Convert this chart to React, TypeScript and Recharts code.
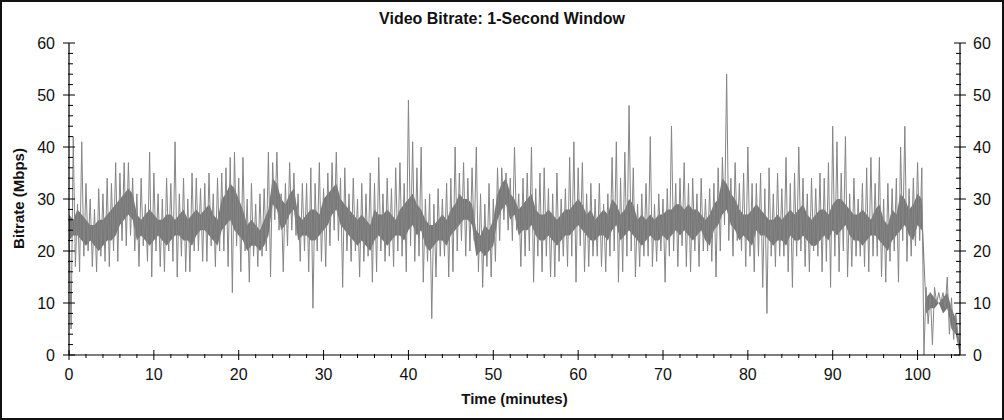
import React from 'react';
import { ComposedChart, Line, Area, XAxis, YAxis } from 'recharts';

// Time step of the bitrate trace, in minutes
const TIME_STEP = 0.25;
// Time step of the dense core band, in minutes
const CORE_STEP = 0.5;

// Bitrate trace (Mbps), 4 samples per minute from 0 to 105 min
const traceMbps = [
  25, 5, 42, 17, 29, 16, 41, 19, 33, 20, 30, 17, 28, 16, 32, 19, 31, 18, 34, 17,
  33, 20, 37, 18, 35, 22, 37, 21, 37, 23, 34, 20, 31, 17, 34, 21, 29, 18, 39, 15,
  35, 20, 31, 17, 30, 16, 34, 20, 33, 18, 41, 15, 31, 19, 34, 16, 30, 16, 35, 20,
  34, 20, 32, 18, 33, 18, 35, 21, 31, 17, 34, 20, 35, 20, 36, 17, 38, 12, 39, 21,
  34, 16, 38, 20, 30, 14, 33, 19, 29, 17, 31, 19, 32, 20, 39, 15, 37, 26, 39, 24,
  31, 16, 33, 21, 37, 24, 35, 23, 31, 18, 33, 20, 33, 16, 36, 9, 33, 20, 37, 18,
  32, 17, 35, 21, 37, 24, 39, 22, 34, 13, 36, 20, 31, 18, 34, 20, 30, 15, 33, 18,
  31, 19, 35, 14, 33, 16, 38, 20, 31, 18, 34, 19, 32, 17, 36, 20, 37, 19, 33, 16,
  49, 21, 41, 18, 36, 19, 40, 14, 30, 18, 31, 7, 29, 15, 32, 19, 30, 19, 33, 15,
  34, 16, 40, 20, 35, 22, 37, 19, 34, 20, 36, 22, 40, 16, 31, 13, 29, 17, 33, 15,
  30, 18, 36, 22, 36, 26, 35, 24, 34, 22, 40, 24, 31, 17, 34, 19, 35, 20, 40, 14,
  32, 19, 35, 16, 36, 19, 32, 15, 31, 15, 35, 18, 30, 19, 32, 17, 38, 19, 41, 14,
  36, 21, 37, 16, 31, 17, 33, 19, 30, 19, 33, 17, 29, 16, 31, 19, 38, 20, 41, 14,
  34, 16, 39, 19, 48, 20, 36, 15, 29, 17, 31, 19, 33, 19, 42, 17, 29, 18, 31, 20,
  30, 14, 32, 19, 44, 20, 33, 17, 34, 21, 37, 17, 33, 16, 34, 20, 31, 17, 34, 20,
  30, 20, 32, 18, 33, 15, 36, 20, 38, 25, 54, 22, 34, 19, 37, 22, 33, 20, 35, 17,
  40, 19, 33, 16, 33, 19, 35, 13, 32, 8, 36, 19, 31, 17, 35, 19, 32, 19, 38, 16,
  33, 13, 35, 19, 40, 20, 34, 17, 31, 16, 34, 20, 32, 19, 35, 16, 34, 18, 37, 13,
  44, 19, 41, 16, 35, 20, 42, 15, 31, 17, 34, 19, 30, 19, 33, 17, 36, 16, 38, 19,
  33, 19, 38, 15, 30, 14, 33, 18, 32, 20, 34, 14, 40, 22, 44, 18, 32, 19, 34, 21,
  37, 22, 36, 0, 13, 6, 12, 2, 13, 10, 12, 10, 12, 9, 15, 4, 11, 3, 8, 4,
  0,
];

// Dense core band of the trace, two values per minute (0..105)
const coreLow = [
  22, 23, 23, 22, 21, 22, 21, 20, 21, 22, 22, 23, 25, 26, 27, 26, 22, 23, 22, 21,
  22, 23, 22, 21, 22, 23, 23, 22, 22, 21, 23, 24, 24, 23, 22, 21, 24, 25, 26, 24,
  23, 22, 20, 21, 21, 20, 21, 23, 29, 28, 24, 25, 27, 28, 22, 23, 23, 22, 22, 23,
  24, 25, 27, 28, 25, 24, 23, 22, 21, 22, 21, 20, 22, 23, 22, 21, 22, 23, 23, 22,
  24, 25, 23, 24, 21, 20, 21, 22, 22, 21, 23, 24, 25, 26, 26, 25, 19, 20, 19, 20,
  21, 26, 28, 29, 26, 27, 23, 24, 24, 25, 23, 22, 22, 23, 22, 21, 22, 23, 23, 24,
  25, 24, 23, 22, 22, 23, 23, 22, 24, 25, 22, 23, 24, 23, 22, 21, 22, 23, 22, 22,
  23, 22, 23, 24, 23, 24, 23, 22, 23, 24, 22, 21, 24, 25, 27, 28, 25, 24, 22, 23,
  22, 21, 24, 23, 23, 22, 21, 22, 22, 21, 23, 22, 22, 23, 22, 21, 21, 22, 23, 22,
  24, 23, 24, 25, 23, 22, 22, 21, 22, 23, 23, 22, 21, 20, 22, 23, 24, 25, 23, 22,
  25, 24, 8, 9, 9, 10, 8, 9, 5, 4, 0,
];
const coreHigh = [
  27, 26, 28, 27, 26, 25, 25, 26, 26, 27, 28, 29, 30, 31, 32, 31, 27, 26, 27, 28,
  27, 26, 26, 27, 27, 26, 27, 28, 26, 27, 28, 27, 28, 29, 27, 26, 30, 31, 33, 32,
  30, 28, 25, 26, 25, 24, 26, 28, 34, 33, 30, 29, 31, 32, 27, 26, 27, 28, 28, 27,
  30, 31, 32, 33, 30, 29, 28, 27, 26, 27, 26, 25, 28, 27, 27, 28, 27, 26, 28, 29,
  30, 31, 29, 28, 26, 25, 25, 26, 27, 26, 28, 29, 31, 30, 30, 29, 24, 23, 25, 24,
  26, 31, 33, 34, 31, 30, 28, 29, 30, 31, 28, 27, 27, 28, 27, 26, 27, 28, 28, 29,
  30, 29, 27, 28, 26, 27, 28, 27, 30, 29, 27, 28, 30, 29, 26, 27, 26, 27, 26, 27,
  27, 28, 28, 29, 29, 28, 29, 28, 28, 27, 26, 27, 29, 30, 34, 33, 31, 30, 28, 27,
  27, 28, 29, 28, 27, 26, 26, 27, 26, 27, 28, 27, 28, 29, 27, 26, 27, 28, 28, 27,
  29, 30, 30, 29, 28, 27, 27, 28, 27, 26, 28, 29, 26, 25, 28, 27, 31, 30, 28, 29,
  31, 30, 11, 12, 11, 10, 11, 12, 9, 7, 2,
];

const xTicks = [
  0, 2, 4, 6, 8, 10, 12, 14, 16, 18, 20, 22, 24, 26, 28, 30, 32, 34, 36, 38,
  40, 42, 44, 46, 48, 50, 52, 54, 56, 58, 60, 62, 64, 66, 68, 70, 72, 74, 76, 78,
  80, 82, 84, 86, 88, 90, 92, 94, 96, 98, 100, 102, 104,
];
const yTicks = [
  0, 2, 4, 6, 8, 10, 12, 14, 16, 18, 20, 22, 24, 26, 28, 30,
  32, 34, 36, 38, 40, 42, 44, 46, 48, 50, 52, 54, 56, 58, 60,
];

const FONT = '"Liberation Sans", Arial, Helvetica, sans-serif';

const coreEvery = Math.round(CORE_STEP / TIME_STEP);
const rows = traceMbps.map((v, i) => {
  const row: any = { t: i * TIME_STEP, v };
  if (i % coreEvery === 0) {
    const k = i / coreEvery;
    row.core = [coreLow[k], coreHigh[k]];
  }
  return row;
});

const isMajor = (v: number) => v % 10 === 0;

const BottomTick = (p: any) => {
  const { x, y, payload } = p;
  const major = isMajor(payload.value);
  return (
    <g>
      <line x1={x} x2={x} y1={major ? y - 5 : y - 1} y2={major ? y + 5 : y + 3} stroke="#000" strokeWidth={1} />
      {major && (
        <text x={x} y={y + 25} textAnchor="middle" fontSize={16} fill="#111" fontFamily={FONT}>
          {payload.value}
        </text>
      )}
    </g>
  );
};

const TopTick = (p: any) => {
  const { x, y, payload } = p;
  const major = isMajor(payload.value);
  return <line x1={x} x2={x} y1={y} y2={major ? y + 5 : y + 3} stroke="#000" strokeWidth={1} />;
};

const LeftTick = (p: any) => {
  const { x, y, payload } = p;
  const major = isMajor(payload.value);
  return (
    <g>
      <line x1={major ? x - 6 : x - 1} x2={major ? x + 6 : x + 4} y1={y} y2={y} stroke="#000" strokeWidth={1} />
      {major && (
        <text x={x - 14} y={y} dy="0.36em" textAnchor="end" fontSize={16} fill="#111" fontFamily={FONT}>
          {payload.value}
        </text>
      )}
    </g>
  );
};

const RightTick = (p: any) => {
  const { x, y, payload } = p;
  const major = isMajor(payload.value);
  return (
    <g>
      <line x1={major ? x - 6 : x - 4} x2={major ? x + 6 : x + 1} y1={y} y2={y} stroke="#000" strokeWidth={1} />
      {major && (
        <text x={x + 13} y={y} dy="0.36em" textAnchor="start" fontSize={16} fill="#111" fontFamily={FONT}>
          {payload.value}
        </text>
      )}
    </g>
  );
};

export default function App() {
  return (
    <div style={{ position: 'absolute', left: 0, top: 0, width: 1004, height: 420, background: '#fff', fontFamily: FONT }}>
      <ComposedChart
        width={1004}
        height={420}
        data={rows}
        margin={{ top: 43, right: 0, bottom: 0, left: 9 }}
      >
        <XAxis
          dataKey="t"
          type="number"
          domain={[0, 105]}
          allowDataOverflow
          ticks={xTicks}
          interval={0}
          height={65}
          tickSize={0}
          tickMargin={0}
          tickLine={false}
          axisLine={{ stroke: '#000', strokeWidth: 1.2 }}
          tick={<BottomTick />}
        />
        <XAxis
          xAxisId="top"
          orientation="top"
          type="number"
          domain={[0, 105]}
          allowDataOverflow
          ticks={xTicks}
          interval={0}
          height={0}
          tickSize={0}
          tickMargin={0}
          tickLine={false}
          axisLine={{ stroke: '#000', strokeWidth: 1.2 }}
          tick={<TopTick />}
        />
        <YAxis
          type="number"
          domain={[0, 60]}
          allowDataOverflow
          ticks={yTicks}
          interval={0}
          width={60}
          tickSize={0}
          tickMargin={0}
          tickLine={false}
          axisLine={{ stroke: '#000', strokeWidth: 1.2 }}
          tick={<LeftTick />}
        />
        <YAxis
          yAxisId="right"
          orientation="right"
          type="number"
          domain={[0, 60]}
          allowDataOverflow
          ticks={yTicks}
          interval={0}
          width={44}
          tickSize={0}
          tickMargin={0}
          tickLine={false}
          axisLine={{ stroke: '#000', strokeWidth: 1.2 }}
          tick={<RightTick />}
        />
        <Area
          dataKey="core"
          type="linear"
          connectNulls
          stroke="none"
          fill="#777777"
          fillOpacity={1}
          isAnimationActive={false}
          dot={false}
          activeDot={false}
        />
        <Line
          dataKey="v"
          type="linear"
          stroke="#858585"
          strokeWidth={1}
          dot={false}
          activeDot={false}
          isAnimationActive={false}
        />
      </ComposedChart>

      <div style={{ position: 'absolute', left: 0, top: 11, width: 1004, textAlign: 'center', fontSize: 16, lineHeight: '16px', fontWeight: 'bold', color: '#111' }}>
        Video Bitrate: 1-Second Window
      </div>
      <div style={{ position: 'absolute', left: 414, top: 391, width: 201, textAlign: 'center', fontSize: 15, lineHeight: '15px', fontWeight: 'bold', color: '#111' }}>
        Time (minutes)
      </div>
      <div style={{ position: 'absolute', left: -82, top: 191, width: 200, height: 15, textAlign: 'center', fontSize: 15, lineHeight: '15px', fontWeight: 'bold', color: '#111', transform: 'rotate(-90deg)', transformOrigin: '50% 50%' }}>
        Bitrate (Mbps)
      </div>
      <div style={{ position: 'absolute', left: 0, top: 0, width: 1004, height: 420, boxSizing: 'border-box', border: '2px solid #111', pointerEvents: 'none' }} />
    </div>
  );
}
